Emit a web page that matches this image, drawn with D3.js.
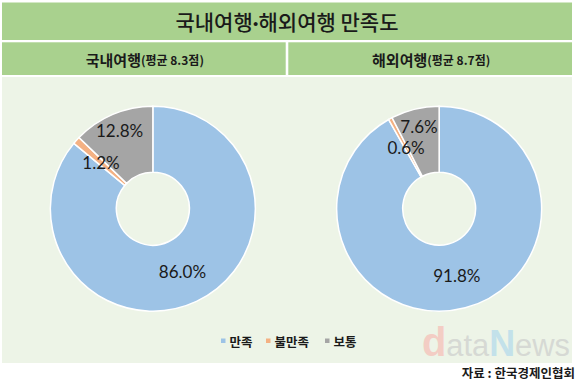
<!DOCTYPE html>
<html><head><meta charset="utf-8">
<script src="https://cdn.jsdelivr.net/npm/d3@7"></script>
<style>body{margin:0;background:#fff;}svg{display:block;}</style>
</head><body>
<script>
const categories = ["만족", "불만족", "보통"];
const domesticValues = [86.0, 1.2, 12.8];
const overseasValues = [91.8, 0.6, 7.6];
const groupTitles = ["국내여행", "해외여행"];
const groupAverages = ["(평균 8.3점)", "(평균 8.7점)"];
const chartTitleParts = ["국내여행", "·", "해외여행 만족도"];
const sourceText = "자료 : 한국경제인협회";

const W = 580, H = 381;
const colors = d3.scaleOrdinal().domain(categories).range(["#9dc3e6", "#f4b183", "#a5a5a5"]);
const svg = d3.select("body").append("svg").attr("width", W).attr("height", H);
const KR = "'Noto Sans CJK KR', 'Noto Sans', sans-serif";

// header bars
svg.append("rect").attr("x", 2).attr("y", 2.5).attr("width", 570).attr("height", 37.5).attr("fill", "#a9d18e");
const title = svg.append("text").attr("x", 287).attr("y", 21).attr("text-anchor", "middle").attr("dominant-baseline", "central")
  .attr("font-family", KR).attr("font-size", 21).attr("font-weight", 500).attr("fill", "#1a1a1a");
title.append("tspan").text(chartTitleParts[0]);
title.append("tspan").attr("font-family", "Lato, sans-serif").attr("font-weight", 700).text(chartTitleParts[1]);
title.append("tspan").text(chartTitleParts[2]);

const halves = [{x0: 2, x1: 285.7}, {x0: 288.3, x1: 572}];
halves.forEach((h, i) => {
  svg.append("rect").attr("x", h.x0).attr("y", 42.3).attr("width", h.x1 - h.x0).attr("height", 32.7).attr("fill", "#a9d18e");
  const t = svg.append("text").attr("x", (h.x0 + h.x1) / 2 + 1).attr("y", 59).attr("text-anchor", "middle")
    .attr("dominant-baseline", "central").attr("font-family", KR).attr("fill", "#1a1a1a").attr("font-weight", 700);
  t.append("tspan").attr("font-size", 15).text(groupTitles[i]);
  t.append("tspan").attr("font-size", 12).text(groupAverages[i]);
});

// panel
svg.append("rect").attr("x", 2).attr("y", 77).attr("width", 570).attr("height", 286).attr("fill", "#edf4e7");

// watermark
const wm = svg.append("text").attr("x", 422).attr("y", 355.5).attr("font-family", "'Liberation Sans', Arial, sans-serif")
  .attr("textLength", 148).attr("lengthAdjust", "spacingAndGlyphs");
wm.append("tspan").attr("font-size", 40).attr("font-weight", 700).attr("fill", "#f3cdc4").text("d");
wm.append("tspan").attr("font-size", 31).attr("fill", "#d6d9d4").text("ata");
wm.append("tspan").attr("font-size", 36).attr("font-weight", 700).attr("fill", "#c3e1ea").text("N");
wm.append("tspan").attr("font-size", 31).attr("fill", "#d6d9d4").text("ews");

// donuts
const pie = d3.pie().sort(null).value(d => d.v).startAngle(0).endAngle(2 * Math.PI);
const rOuter = 102.5, rInner = 36.5;
const arc = d3.arc().innerRadius(rInner).outerRadius(rOuter);
const labelArcs = [
  d3.arc().innerRadius(rInner).outerRadius(rOuter),
  d3.arc().innerRadius(rInner).outerRadius(rOuter),
  d3.arc().innerRadius(rOuter * 0.66).outerRadius(rOuter * 1.0)
];
[domesticValues, overseasValues].forEach((vals, i) => {
  const cx = (halves[i].x0 + halves[i].x1) / 2 + 9;
  const g = svg.append("g").attr("transform", `translate(${cx},${208.7})`);
  const data = pie(categories.map((c, j) => ({c, v: vals[j]})));
  g.selectAll("path").data(data).join("path").attr("d", arc)
    .attr("fill", d => colors(d.data.c)).attr("stroke", "#fff").attr("stroke-width", 1.5);
  g.selectAll("text").data(data).join("text")
    .attr("transform", (d, j) => `translate(${labelArcs[j].centroid(d)})`)
    .attr("text-anchor", "middle").attr("dominant-baseline", "central")
    .attr("font-family", "Lato, sans-serif").attr("font-size", 17).attr("fill", "#1a1a1a")
    .text(d => d.data.v.toFixed(1) + "%");
});

// legend
const legendX = [221, 266, 325];
categories.forEach((c, i) => {
  svg.append("rect").attr("x", legendX[i]).attr("y", 338.5).attr("width", 4.5).attr("height", 4.5).attr("fill", colors(c));
  svg.append("text").attr("x", legendX[i] + 8.5).attr("y", 341).attr("dominant-baseline", "central")
    .attr("font-family", KR).attr("font-size", 12.5).attr("font-weight", 700).attr("fill", "#1a1a1a").text(c);
});

// source
svg.append("text").attr("x", 575).attr("y", 372.5).attr("text-anchor", "end").attr("dominant-baseline", "central")
  .attr("font-family", KR).attr("font-size", 12.5).attr("font-weight", 700).attr("fill", "#1a1a1a").text(sourceText);
</script>
</body></html>
